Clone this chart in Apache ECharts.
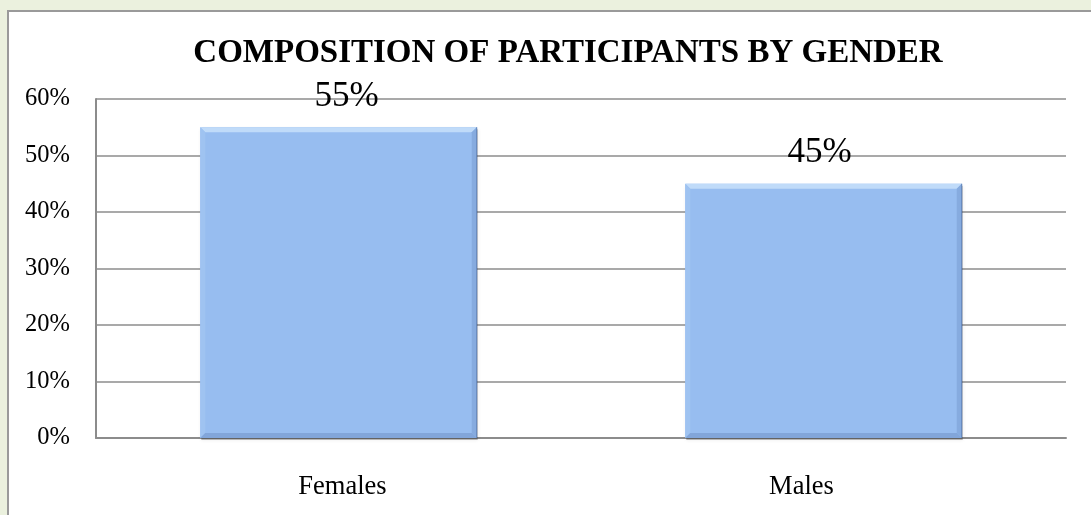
<!DOCTYPE html>
<html>
<head>
<meta charset="utf-8">
<script src="https://cdn.jsdelivr.net/npm/echarts@6/dist/echarts.min.js"></script>
<style>
html,body{margin:0;padding:0;width:1091px;height:515px;overflow:hidden;background:#ebf1de;}
#frame{position:absolute;left:7px;top:10px;width:1100px;height:520px;background:#ffffff;border-left:2px solid #9a9a9a;border-top:2px solid #9a9a9a;box-sizing:border-box;}
#chart{position:absolute;left:0;top:0;width:1091px;height:515px;}
</style>
</head>
<body>
<div id="frame"></div>
<div id="chart"></div>
<script>
const titleText = 'COMPOSITION OF PARTICIPANTS BY GENDER';
const categories = ['Females', 'Males'];
const values = [0.55, 0.45];
const yTicks = [0, 0.1, 0.2, 0.3, 0.4, 0.5, 0.6];

// style-only horizontal nudges of the text, as in the reference
const valueLabelShift = [8, -4];

const serif = '"Liberation Serif", "Times New Roman", serif';
const pct = v => Math.round(v * 100) + '%';
const chart = echarts.init(document.getElementById('chart'), null, {renderer: 'canvas'});

function renderBevelBar(params, api) {
  const cat = api.value(0);
  const val = api.value(1);
  const top = api.coord([cat, val]);
  const bot = api.coord([cat, 0]);
  const band = api.size([1, 0])[0];
  const w = band * 0.57;
  const x0 = top[0] - w / 2, x1 = top[0] + w / 2;
  const y0 = top[1], y1 = bot[1];
  const b = 5;
  return {
    type: 'group',
    children: [
      {type: 'rect', shape: {x: x0 + 1, y: y0 + 2, width: w, height: y1 - y0},
        style: {fill: 'rgba(0,0,0,0.25)', shadowBlur: 4, shadowColor: 'rgba(0,0,0,0.3)'}},
      {type: 'rect', shape: {x: x0, y: y0, width: w, height: y1 - y0}, style: {fill: '#97bdf0'}},
      {type: 'polygon', shape: {points: [[x0, y0], [x1, y0], [x1 - b, y0 + b], [x0 + b, y0 + b]]},
        style: {fill: '#c0dbf9'}},
      {type: 'polygon', shape: {points: [[x0, y0], [x0 + b, y0 + b], [x0 + b, y1 - b], [x0, y1]]},
        style: {fill: '#9fc3f1'}},
      {type: 'polygon', shape: {points: [[x1, y0], [x1, y1], [x1 - b, y1 - b], [x1 - b, y0 + b]]},
        style: {fill: '#86abdf'}},
      {type: 'polygon', shape: {points: [[x0, y1], [x0 + b, y1 - b], [x1 - b, y1 - b], [x1, y1]]},
        style: {fill: '#82a6da'}},
      {type: 'line', shape: {x1: x1, y1: y0, x2: x1, y2: y1},
        style: {stroke: '#5f82b6', lineWidth: 1}},
      {type: 'text', x: top[0] + valueLabelShift[params.dataIndex], y: y0 - 13,
        style: {text: pct(val), fill: '#000', font: '35px ' + serif, align: 'center', verticalAlign: 'bottom'}}
    ]
  };
}

chart.setOption({
  backgroundColor: 'transparent',
  animation: false,
  title: {
    text: titleText,
    left: 563,
    textAlign: 'center',
    top: 32,
    textStyle: {fontFamily: serif, fontWeight: 'bold', fontSize: 33, color: '#000'}
  },
  grid: {left: 96, top: 99, right: 25, bottom: 77, containLabel: false},
  xAxis: {
    type: 'category',
    data: categories,
    axisLine: {show: true, lineStyle: {color: '#8c8c8c', width: 2}},
    axisTick: {show: false},
    axisLabel: {
      fontFamily: serif, fontSize: 26.5, color: '#000', margin: 36,
      formatter: (v, i) => '{c' + i + '|' + v + '}',
      rich: {
        c0: {fontFamily: serif, fontSize: 26.5, color: '#000', padding: [0, 0, 0, 8]},
        c1: {fontFamily: serif, fontSize: 26.5, color: '#000', padding: [0, 44, 0, 0]}
      }
    }
  },
  yAxis: {
    type: 'value',
    min: yTicks[0],
    max: yTicks[yTicks.length - 1],
    interval: 0.1,
    axisLine: {show: true, lineStyle: {color: '#8c8c8c', width: 2}},
    axisTick: {show: false},
    splitLine: {show: true, lineStyle: {color: '#8c8c8c', width: 1.5}},
    axisLabel: {fontFamily: serif, fontSize: 24.5, color: '#000', margin: 26, formatter: pct}
  },
  series: [{
    type: 'custom',
    renderItem: renderBevelBar,
    data: categories.map((c, i) => [i, values[i]]),
    encode: {x: 0, y: 1}
  }]
});
</script>
</body>
</html>
